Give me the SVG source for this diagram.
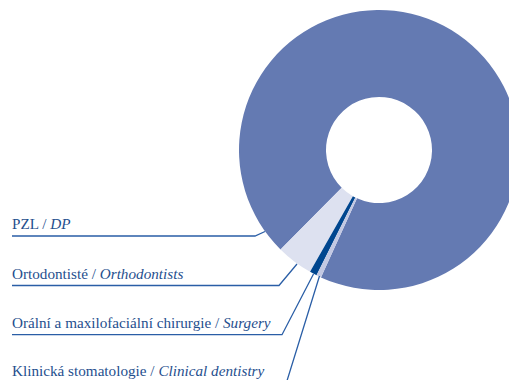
<svg xmlns="http://www.w3.org/2000/svg" width="509" height="380" viewBox="0 0 509 380">
<style>
.lbl{font-family:"Liberation Serif","Times New Roman",serif;font-size:15.2px;fill:#1f4f8e}
.it{font-style:italic}
.lead{fill:none;stroke:#2a5ea6;stroke-width:1.3}
</style>
<rect width="509" height="380" fill="#ffffff"/>
<g id="donut">
<path id="slice-pzl" fill="#647ab2" d="M280.52,249.51 A140,140 0 1 1 320.94,277.40 L357.02,198.23 A53,53 0 1 0 341.72,187.67 Z"/>
<path id="slice-ortho" fill="#dde1f0" d="M310.06,271.86 A140,140 0 0 1 280.52,249.51 L341.72,187.67 A53,53 0 0 0 352.90,196.13 Z"/>
<path id="slice-surgery" fill="#00468f" d="M316.53,275.29 A140,140 0 0 1 310.06,271.86 L352.90,196.13 A53,53 0 0 0 355.35,197.43 Z"/>
<path id="slice-clinical" fill="#c3c9e3" d="M320.94,277.40 A140,140 0 0 1 316.53,275.29 L355.35,197.43 A53,53 0 0 0 357.02,198.23 Z"/>
</g>
<g id="connectors">
<polyline class="lead" points="12,236 255,236 265,231.5"/>
<polyline class="lead" points="12,285.5 279,285.5 297,264"/>
<polyline class="lead" points="12,334.7 282,334.7 313.5,274"/>
<polyline class="lead" points="12,384 286,384 319.5,276"/>
</g>
<g id="label-pzl"><text class="lbl" x="12" y="229">PZL / <tspan class="it">DP</tspan></text></g>
<g id="label-ortho"><text class="lbl" x="12" y="279.3">Ortodontisté / <tspan class="it">Orthodontists</tspan></text></g>
<g id="label-surgery"><text class="lbl" x="12" y="328.3">Orální a maxilofaciální chirurgie / <tspan class="it">Surgery</tspan></text></g>
<g id="label-clinical"><text class="lbl" x="12" y="376.3">Klinická stomatologie / <tspan class="it">Clinical dentistry</tspan></text></g>
</svg>
